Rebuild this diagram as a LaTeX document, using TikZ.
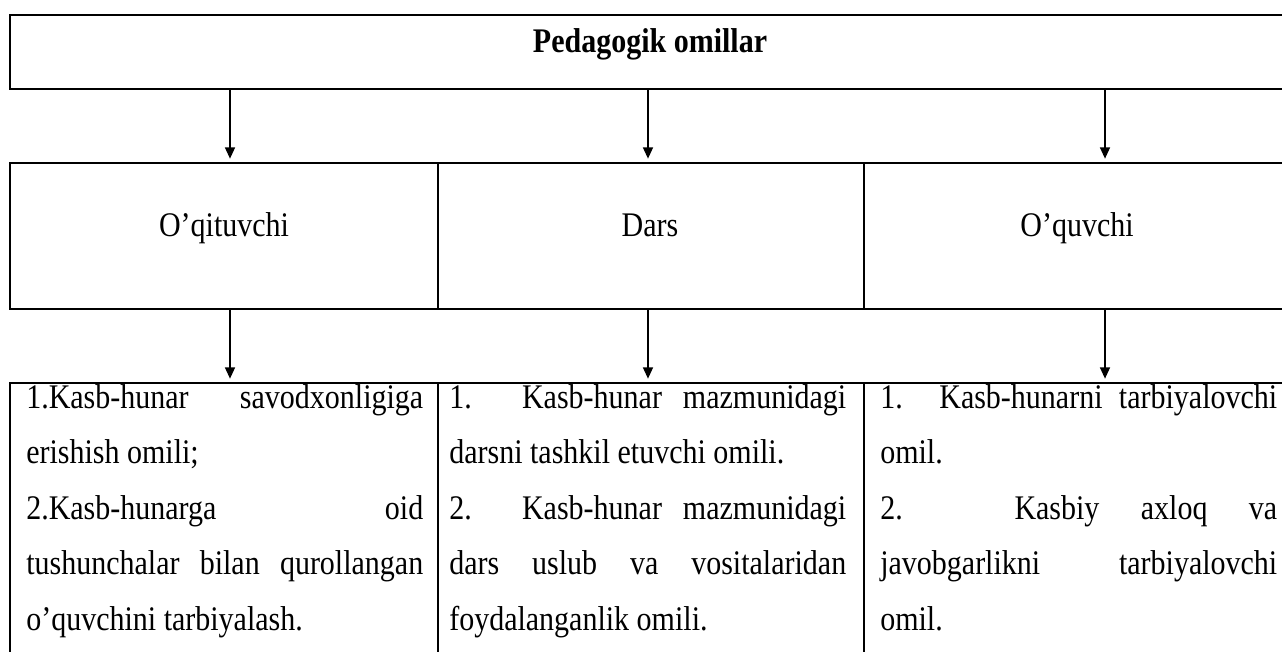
\documentclass[tikz,border=0pt]{standalone}
\usepackage{graphicx}
\usepackage{fontspec}
\setmainfont{Liberation Serif}
\usetikzlibrary{arrows.meta}
\newcommand\justline[1]{\makebox[\linewidth][s]{#1}}
\newcommand\tallbox[1]{\scalebox{1}[1.15]{#1}}
\begin{document}
\begin{tikzpicture}[x=0.75pt,y=-0.75pt,
  cell/.style={draw=black, line width=1.4pt, inner sep=0pt, anchor=north west},
  arr/.style={line width=1.2pt, -{Triangle[width=7.5pt,length=8.5pt]}, shorten >=2.5pt},
  lbl/.style={inner sep=0pt, anchor=base, font=\fontsize{22.5}{27}\selectfont},
  body/.style={inner sep=0pt, anchor=base west, font=\fontsize{22.5}{36.2}\selectfont}]
\useasboundingbox (0,0) rectangle (1282,651);
\clip (0,0) rectangle (1282,651);
\fill[white] (0,0) rectangle (1282,651);
% boxes
\node[cell, minimum width=968.25pt, minimum height=55.5pt] (top) at (9,14) {};
\node[cell, minimum width=321pt, minimum height=109.5pt] (m1) at (9,162) {};
\node[cell, minimum width=319.5pt, minimum height=109.5pt] (m2) at (437,162) {};
\node[cell, minimum width=337.5pt, minimum height=109.5pt] (m3) at (863,162) {};
\node[cell, minimum width=321pt, minimum height=238.5pt] (b1) at (9,382) {};
\node[cell, minimum width=319.5pt, minimum height=238.5pt] (b2) at (437,382) {};
\node[cell, minimum width=337.5pt, minimum height=238.5pt] (b3) at (863,382) {};
% texts
\node[lbl, font={\fontsize{22.5}{27}\selectfont\bfseries}] (ttop) at (650,52) {\tallbox{Pedagogik omillar}};
\node[lbl] (t1) at (224,236) {\tallbox{O’qituvchi}};
\node[lbl] (t2) at (650,236) {\tallbox{Dars}};
\node[lbl] (t3) at (1077,236) {\tallbox{O’quvchi}};
\node[body] (p1) at (26,408) {\tallbox{\parbox[t]{297.75pt}{%
\justline{1.Kasb-hunar savodxonligiga}\\
erishish omili;\\
\justline{2.Kasb-hunarga oid}\\
\justline{tushunchalar bilan qurollangan}\\
o’quvchini tarbiyalash.}}};
\node[body] (p2) at (449,408) {\tallbox{\parbox[t]{297.75pt}{%
\justline{1. Kasb-hunar mazmunidagi}\\
darsni tashkil etuvchi omili.\\
\justline{2. Kasb-hunar mazmunidagi}\\
\justline{dars uslub va vositalaridan}\\
foydalanganlik omili.}}};
\node[body] (p3) at (880,408) {\tallbox{\parbox[t]{297.75pt}{%
\justline{1. Kasb-hunarni tarbiyalovchi}\\
omil.\\
\justline{2. Kasbiy axloq va}\\
\justline{javobgarlikni tarbiyalovchi}\\
omil.}}};
% arrows
\coordinate (x1) at (230,0);
\coordinate (x2) at (648,0);
\coordinate (x3) at (1105,0);
\draw[arr] (x1 |- top.south) -- (x1 |- m1.north);
\draw[arr] (x2 |- top.south) -- (x2 |- m2.north);
\draw[arr] (x3 |- top.south) -- (x3 |- m3.north);
\draw[arr] (x1 |- m1.south) -- (x1 |- b1.north);
\draw[arr] (x2 |- m2.south) -- (x2 |- b2.north);
\draw[arr] (x3 |- m3.south) -- (x3 |- b3.north);
\end{tikzpicture}
\end{document}
